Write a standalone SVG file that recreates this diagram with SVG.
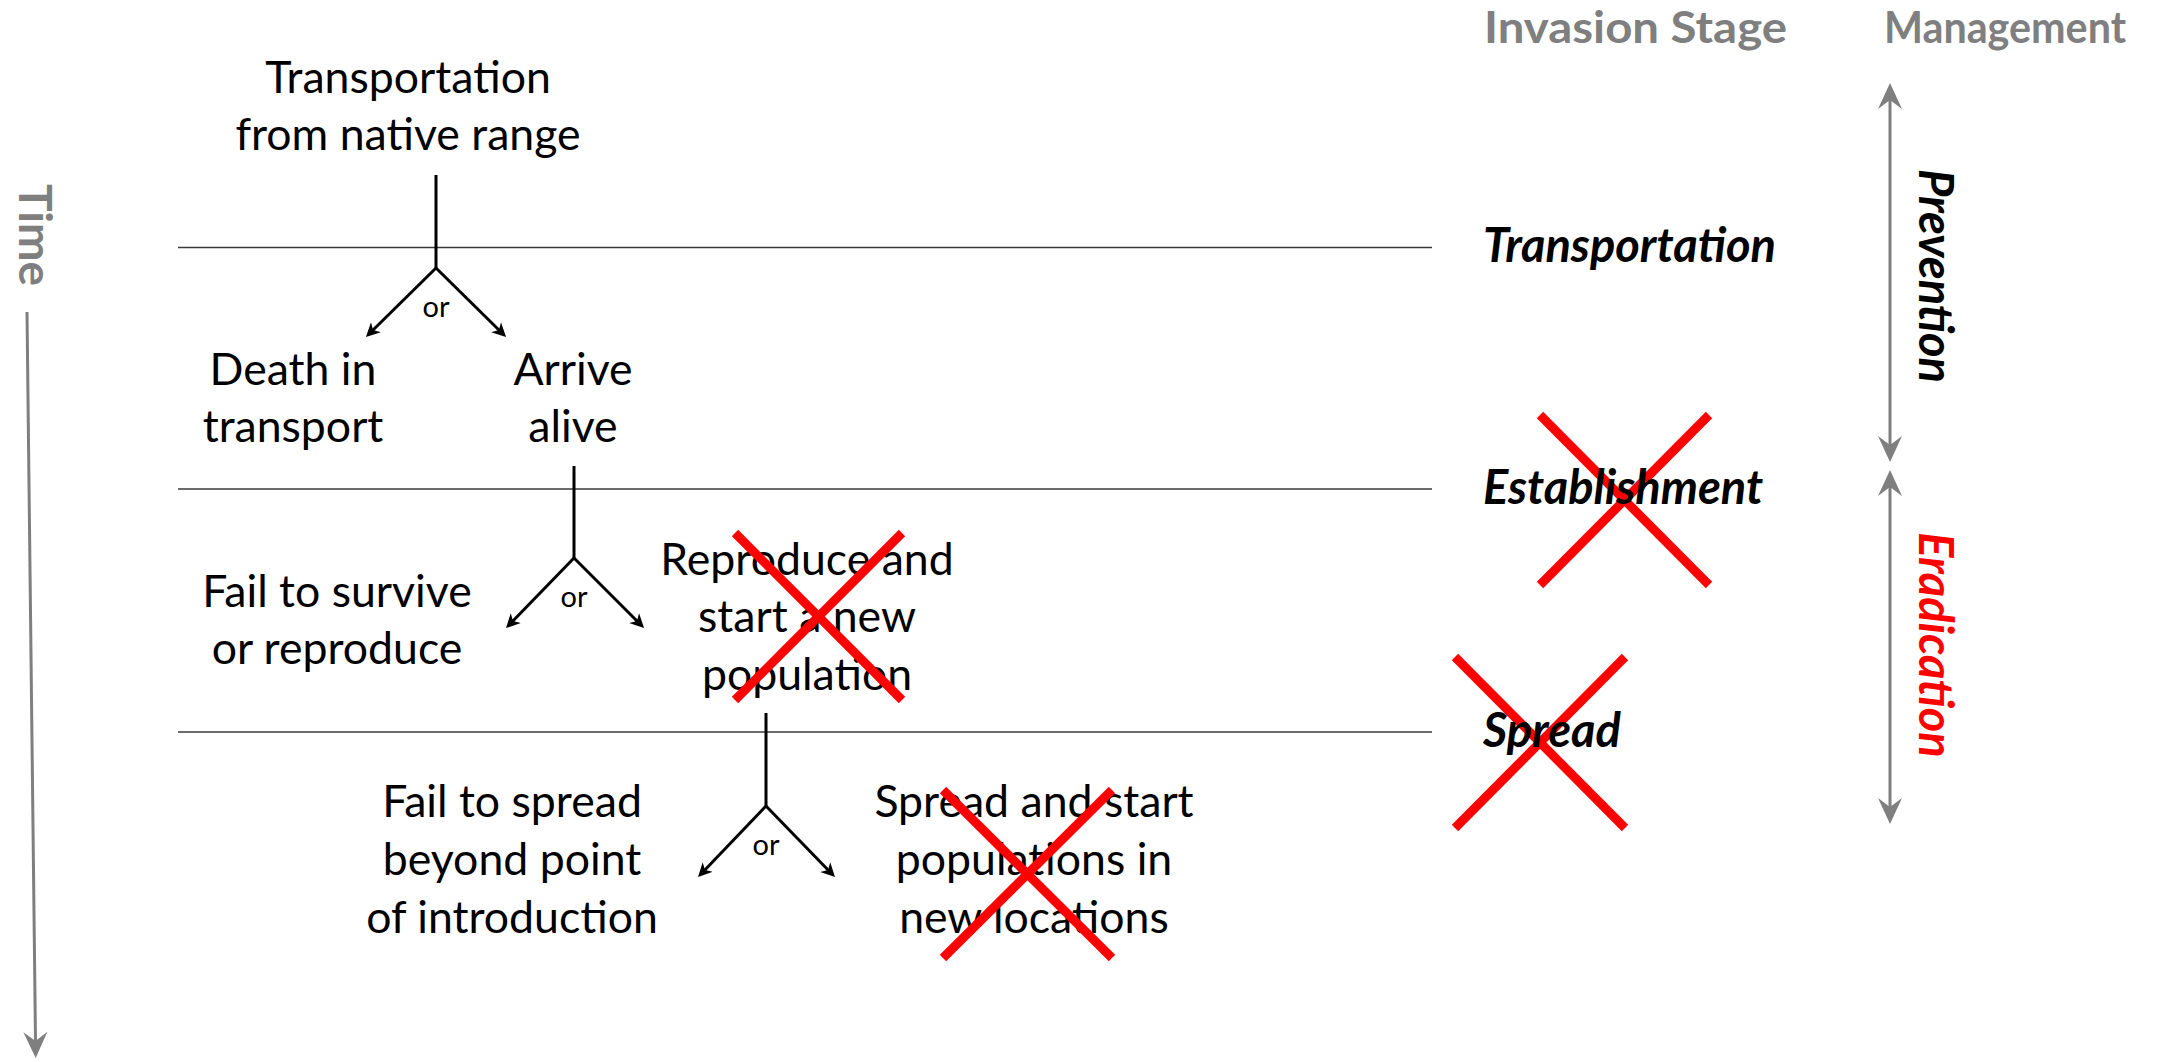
<svg xmlns="http://www.w3.org/2000/svg" width="2169" height="1062" viewBox="0 0 2169 1062">
  <style>
    text { font-family: Lato, "Open Sans", "Liberation Sans", sans-serif; }
    .body { font-size: 44.6px; fill: #000; text-anchor: middle; }
    .or { font-size: 29px; fill: #000; text-anchor: middle; }
    .stage { font-size: 47px; font-weight: bold; font-style: italic; fill: #000; }
    .head { font-size: 46px; font-weight: bold; fill: #7f7f7f; }
    .colhead { font-size: 43px; font-weight: bold; fill: #7f7f7f; }
    .mgmt { font-size: 47px; font-weight: bold; font-style: italic; text-anchor: middle; }
    .sep { stroke: #3a3a3a; stroke-width: 1.6; }
    .fork { stroke: #000; stroke-width: 3; fill: none; }
    .cross { stroke: #ff0000; stroke-width: 9; stroke-linecap: butt; }
    .gray { stroke: #7f7f7f; stroke-width: 3; fill: none; }
  </style>
  <defs>
    <marker id="tipBlack" viewBox="-14 -8 16 16" markerWidth="16" markerHeight="16" refX="-5" refY="0" orient="auto" markerUnits="userSpaceOnUse">
      <path d="M0,0 L-14,-7 L-10,0 L-14,7 Z" fill="#000"/>
    </marker>
    <marker id="tipGray" viewBox="-28 -14 30 28" markerWidth="30" markerHeight="28" refX="-8" refY="0" orient="auto-start-reverse" markerUnits="userSpaceOnUse">
      <path d="M0,0 L-26,-12 L-17,0 L-26,12 Z" fill="#7f7f7f"/>
    </marker>
  </defs>

  <!-- time axis -->
  <g id="time-axis">
    <text class="head" transform="translate(19,235) rotate(90)" text-anchor="middle">Time</text>
    <line class="gray" x1="27" y1="312" x2="35.6" y2="1050" stroke-width="3.5" marker-end="url(#tipGray)"/>
  </g>

  <!-- stage separators -->
  <g id="separators">
    <line class="sep" x1="178" y1="247.5" x2="1432" y2="247.5"/>
    <line class="sep" x1="178" y1="489" x2="1432" y2="489"/>
    <line class="sep" x1="178" y1="732" x2="1432" y2="732"/>
  </g>

  <!-- column headers -->
  <g id="header-stage"><text class="colhead" x="1484" y="43" textLength="303" lengthAdjust="spacingAndGlyphs">Invasion Stage</text></g>
  <g id="header-management"><text class="colhead" x="1884" y="43" textLength="242" lengthAdjust="spacingAndGlyphs">Management</text></g>

  <!-- pathway outcomes -->
  <g id="node-start">
    <text class="body" x="408" y="93">Transportation</text>
    <text class="body" x="408" y="150">from native range</text>
  </g>
  <g id="node-death">
    <text class="body" x="293" y="385">Death in</text>
    <text class="body" x="293" y="442">transport</text>
  </g>
  <g id="node-arrive">
    <text class="body" x="573" y="385">Arrive</text>
    <text class="body" x="573" y="442">alive</text>
  </g>
  <g id="node-fail-survive">
    <text class="body" x="337" y="607">Fail to survive</text>
    <text class="body" x="337" y="664">or reproduce</text>
  </g>
  <g id="node-reproduce">
    <text class="body" x="807" y="575">Reproduce and</text>
    <text class="body" x="807" y="632">start a new</text>
    <text class="body" x="807" y="690">population</text>
    <line class="cross" x1="735" y1="533" x2="902" y2="700"/>
    <line class="cross" x1="902" y1="533" x2="735" y2="700"/>
  </g>
  <g id="node-fail-spread">
    <text class="body" x="512" y="817">Fail to spread</text>
    <text class="body" x="512" y="875">beyond point</text>
    <text class="body" x="512" y="933">of introduction</text>
  </g>
  <g id="node-spread">
    <text class="body" x="1034" y="817">Spread and start</text>
    <text class="body" x="1034" y="875">populations in</text>
    <text class="body" x="1034" y="933">new locations</text>
    <line class="cross" x1="943" y1="790" x2="1112" y2="958"/>
    <line class="cross" x1="1112" y1="790" x2="943" y2="958"/>
  </g>

  <!-- invasion stages -->
  <g id="stage-transportation">
    <text class="stage" x="1483" y="262">Transportation</text>
  </g>
  <g id="stage-establishment">
    <line class="cross" x1="1540" y1="415" x2="1709" y2="585"/>
    <line class="cross" x1="1709" y1="415" x2="1540" y2="585"/>
    <text class="stage" x="1483" y="504">Establishment</text>
  </g>
  <g id="stage-spread">
    <line class="cross" x1="1455" y1="657" x2="1625" y2="828"/>
    <line class="cross" x1="1625" y1="657" x2="1455" y2="828"/>
    <text class="stage" x="1483" y="747">Spread</text>
  </g>

  <!-- management spans -->
  <g id="mgmt-prevention">
    <line class="gray" x1="1890" y1="91" x2="1890" y2="454" stroke-width="2.6" marker-start="url(#tipGray)" marker-end="url(#tipGray)"/>
    <text class="mgmt" fill="#000" transform="translate(1919,276) rotate(90)">Prevention</text>
  </g>
  <g id="mgmt-eradication">
    <line class="gray" x1="1890" y1="478" x2="1890" y2="816" stroke-width="2.6" marker-start="url(#tipGray)" marker-end="url(#tipGray)"/>
    <text class="mgmt" fill="#ff0000" transform="translate(1919,645) rotate(90)">Eradication</text>
  </g>

  <!-- branching connectors -->
  <g id="connectors">
    <line class="fork" x1="436" y1="175" x2="436" y2="268"/>
    <line class="fork" x1="436" y1="268" x2="369.5" y2="333.5" marker-end="url(#tipBlack)"/>
    <line class="fork" x1="436" y1="268" x2="502.5" y2="333.5" marker-end="url(#tipBlack)"/>
    <text class="or" x="436" y="317">or</text>

    <line class="fork" x1="574" y1="466" x2="574" y2="558"/>
    <line class="fork" x1="574" y1="558" x2="509.5" y2="624.5" marker-end="url(#tipBlack)"/>
    <line class="fork" x1="574" y1="558" x2="640.5" y2="624.5" marker-end="url(#tipBlack)"/>
    <text class="or" x="574" y="607">or</text>

    <line class="fork" x1="766" y1="713" x2="766" y2="806"/>
    <line class="fork" x1="766" y1="806" x2="701.5" y2="873.5" marker-end="url(#tipBlack)"/>
    <line class="fork" x1="766" y1="806" x2="831.5" y2="873.5" marker-end="url(#tipBlack)"/>
    <text class="or" x="766" y="855">or</text>
  </g>
</svg>
